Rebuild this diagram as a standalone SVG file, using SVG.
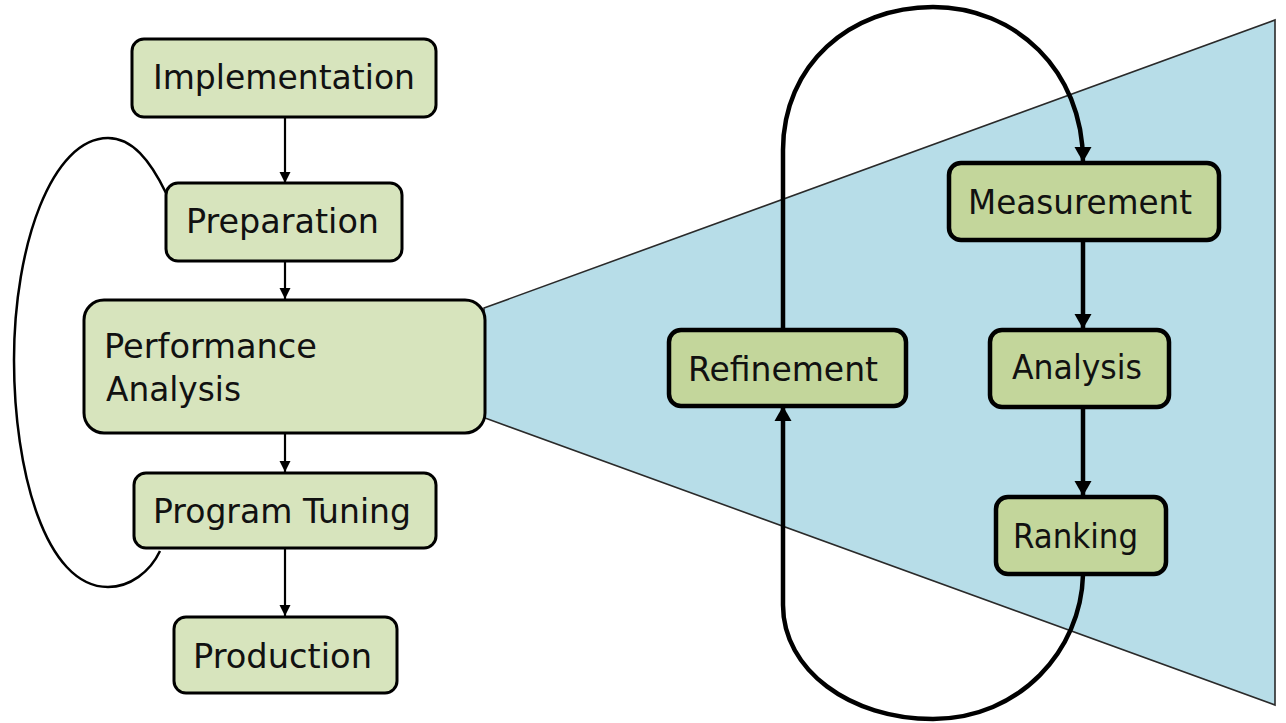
<svg xmlns="http://www.w3.org/2000/svg" width="1286" height="723" viewBox="0 0 1286 723">
  <style>
    .box-l { fill: #d7e4bd; stroke: #000; stroke-width: 3; }
    .box-r { fill: #c3d69b; stroke: #000; stroke-width: 4.5; }
    .lbl { font-family: "Comic Sans MS", "DejaVu Sans", sans-serif; font-size: 33px; fill: #111; }
    .thin { fill: none; stroke: #000; stroke-width: 2.2; }
    .thick { fill: none; stroke: #000; stroke-width: 4.5; }
    .loop { fill: none; stroke: #000; stroke-width: 2.5; }
  </style>
  <defs>
    <marker id="head-s" markerUnits="userSpaceOnUse" viewBox="0 0 12 12" markerWidth="12" markerHeight="12" refX="11" refY="6" orient="auto">
      <path d="M0,0.5 L11,6 L0,11.5 z" fill="#000"/>
    </marker>
    <marker id="head-l" markerUnits="userSpaceOnUse" viewBox="0 0 16 18" markerWidth="16" markerHeight="18" refX="15" refY="9" orient="auto">
      <path d="M0,0.5 L15,9 L0,17.5 z" fill="#000"/>
    </marker>
  </defs>

  <!-- zoom wedge opening out of the analysis step -->
  <polygon id="zoom-wedge" points="484,308 1275,20 1275,705 485,418" fill="#b7dde8" stroke="#2a2a2a" stroke-width="1.6" stroke-linejoin="miter"/>

  <g id="connectors">
    <!-- main flow -->
    <path class="thin" d="M285,117 V183" marker-end="url(#head-s)"/>
    <path class="thin" d="M285,261 V299" marker-end="url(#head-s)"/>
    <path class="thin" d="M285,433 V472" marker-end="url(#head-s)"/>
    <path class="thin" d="M285,548 V616" marker-end="url(#head-s)"/>
    <!-- tuning loop back to preparation -->
    <path class="loop" d="M160,551 C150,572 130,587 108,587 C45,587 14,470 14,360 C14,245 52,138 108,138 C132,138 150,160 166,193"/>
    <!-- analysis cycle -->
    <path class="thick" d="M1083,240 V329" marker-end="url(#head-l)"/>
    <path class="thick" d="M1083,407 V496" marker-end="url(#head-l)"/>
    <path class="thick" d="M783,330 V150 C783,65 850,7 933,7 C1015,7 1083,70 1083,162" marker-end="url(#head-l)"/>
    <path class="thick" d="M1083,575 C1081,650 1020,719 933,719 C850,719 783,670 783,605 V406" marker-end="url(#head-l)"/>
  </g>

  <g id="implementation">
    <rect class="box-l" x="132" y="39" width="304" height="78" rx="12"/>
    <text class="lbl" x="153" y="89" textLength="262" lengthAdjust="spacingAndGlyphs">Implementation</text>
  </g>
  <g id="preparation">
    <rect class="box-l" x="166" y="183" width="236" height="78" rx="12"/>
    <text class="lbl" x="186" y="233" textLength="193" lengthAdjust="spacingAndGlyphs">Preparation</text>
  </g>
  <g id="performance-analysis">
    <rect class="box-l" x="84" y="300" width="401" height="133" rx="20"/>
    <text class="lbl" x="104" y="358" textLength="213" lengthAdjust="spacingAndGlyphs">Performance</text>
    <text class="lbl" x="106" y="401" textLength="135" lengthAdjust="spacingAndGlyphs">Analysis</text>
  </g>
  <g id="program-tuning">
    <rect class="box-l" x="134" y="473" width="302" height="75" rx="12"/>
    <text class="lbl" x="153" y="523" textLength="258" lengthAdjust="spacingAndGlyphs">Program Tuning</text>
  </g>
  <g id="production">
    <rect class="box-l" x="174" y="617" width="223" height="76" rx="12"/>
    <text class="lbl" x="193" y="668" textLength="179" lengthAdjust="spacingAndGlyphs">Production</text>
  </g>

  <g id="measurement">
    <rect class="box-r" x="949" y="163" width="270" height="77" rx="12"/>
    <text class="lbl" x="968" y="214" textLength="224" lengthAdjust="spacingAndGlyphs">Measurement</text>
  </g>
  <g id="refinement">
    <rect class="box-r" x="669" y="330" width="237" height="76" rx="12"/>
    <text class="lbl" x="688" y="381" textLength="190" lengthAdjust="spacingAndGlyphs">Refinement</text>
  </g>
  <g id="analysis">
    <rect class="box-r" x="990" y="330" width="179" height="77" rx="12"/>
    <text class="lbl" x="1012" y="379" textLength="130" lengthAdjust="spacingAndGlyphs">Analysis</text>
  </g>
  <g id="ranking">
    <rect class="box-r" x="996" y="497" width="170" height="77" rx="12"/>
    <text class="lbl" x="1013" y="548" textLength="125" lengthAdjust="spacingAndGlyphs">Ranking</text>
  </g>
</svg>
